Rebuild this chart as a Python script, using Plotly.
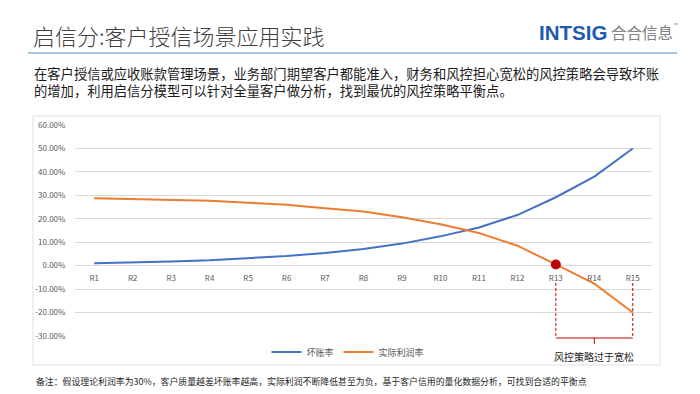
import plotly.graph_objects as go

# ---------------- data ----------------
categories = ["R1", "R2", "R3", "R4", "R5", "R6", "R7", "R8", "R9", "R10",
              "R11", "R12", "R13", "R14", "R15"]
bad_debt_rate = [1.0, 1.3, 1.8, 2.3, 3.1, 4.1, 5.4, 7.1, 9.4, 12.5,
                 16.3, 21.6, 29.2, 38.0, 50.0]
actual_profit_rate = [28.8, 28.5, 28.1, 27.7, 26.9, 26.0, 24.5, 23.1, 20.7, 17.7,
                      13.9, 8.5, 0.5, -7.7, -20.0]
ytick_values = [-30, -20, -10, 0, 10, 20, 30, 40, 50, 60]
ytick_labels = ["-30.00%", "-20.00%", "-10.00%", "0.00%", "10.00%", "20.00%",
                "30.00%", "40.00%", "50.00%", "60.00%"]
series_names = ["坏账率", "实际利润率"]
highlight_category = "R13"
bracket_start, bracket_mid, bracket_end = "R13", "R14", "R15"

title_text = "启信分:客户授信场景应用实践"
para_lines = ["在客户授信或应收账款管理场景，业务部门期望客户都能准入，财务和风控担心宽松的风控策略会导致坏账",
              "的增加，利用启信分模型可以针对全量客户做分析，找到最优的风控策略平衡点。"]
bracket_label = "风控策略过于宽松"
footnote = "备注：假设理论利润率为30%，客户质量越差坏账率越高，实际利润不断降低甚至为负，基于客户信用的量化数据分析，可找到合适的平衡点"

# ---------------- layout helpers (pixel -> paper) ----------------
W, H = 700, 394
PL, PR, PT, PB = 75, 652, 125, 336
def fx(px):
    return (px - PL) / (PR - PL)
def fy(py):
    return (PB - py) / (PB - PT)

FONT = "Noto Sans CJK SC, Noto Sans, sans-serif"
BLUE = "#4472C4"
ORANGE = "#ED7D31"
RED = "#C00000"
GRID = "#D9D9D9"
TICK = "#595959"

yr = [-30.05, 60.05]

fig = go.Figure()
fig.add_trace(go.Scatter(x=categories, y=bad_debt_rate, mode="lines", name=series_names[0],
                         line=dict(color=BLUE, width=2)))
fig.add_trace(go.Scatter(x=categories, y=actual_profit_rate, mode="lines", name=series_names[1],
                         line=dict(color=ORANGE, width=2)))
hi = categories.index(highlight_category)
fig.add_trace(go.Scatter(x=[categories[hi]], y=[actual_profit_rate[hi]], mode="markers",
                         marker=dict(color=RED, size=10), showlegend=False))

shapes = [
    # chart frame
    dict(type="rect", xref="paper", yref="paper", x0=fx(33), x1=fx(660), y0=fy(365), y1=fy(116),
         line=dict(color="#E0E0E0", width=1), fillcolor="rgba(0,0,0,0)", layer="below"),
    # title rule
    dict(type="line", xref="paper", yref="paper", x0=fx(28), x1=fx(677), y0=fy(53), y1=fy(53),
         line=dict(color="#A9C7DC", width=2)),
    # bracket
    dict(type="line", xref="x", yref="paper", x0=bracket_start, x1=bracket_start, y0=fy(283), y1=fy(338),
         line=dict(color=RED, width=1, dash="3px,2px")),
    dict(type="line", xref="x", yref="paper", x0=bracket_end, x1=bracket_end, y0=fy(283), y1=fy(338),
         line=dict(color=RED, width=1, dash="3px,2px")),
    dict(type="line", xref="x", yref="paper", x0=bracket_start, x1=bracket_end, y0=fy(338), y1=fy(338),
         line=dict(color=RED, width=1)),
    dict(type="line", xref="x", yref="paper", x0=bracket_mid, x1=bracket_mid, y0=fy(338), y1=fy(344),
         line=dict(color=RED, width=1)),
]

annotations = [
    dict(text=title_text, xref="paper", yref="paper", x=fx(31), y=fy(35), xanchor="left", yanchor="middle",
         showarrow=False, font=dict(size=22, color="#404040", family=FONT, weight=300)),
    dict(text="<b>INTSIG</b>", xref="paper", yref="paper", x=fx(537), y=fy(32), xanchor="left", yanchor="middle",
         showarrow=False, font=dict(size=20.5, color="#1E5BB0", family="Liberation Sans, Arial, sans-serif")),
    dict(text="合合信息", xref="paper", yref="paper", x=fx(609), y=fy(32), xanchor="left", yanchor="middle",
         showarrow=False, font=dict(size=15.5, color="#808080", family=FONT)),
    dict(text="™", xref="paper", yref="paper", x=fx(672), y=fy(24), xanchor="left", yanchor="middle",
         showarrow=False, font=dict(size=5, color="#808080", family=FONT)),
    dict(text="<br>".join(para_lines), xref="paper", yref="paper", x=fx(32), y=fy(82), xanchor="left",
         yanchor="middle", align="left",
         showarrow=False, font=dict(size=13.3, color="#1A1A1A", family=FONT)),
    dict(text=bracket_label, xref="x", yref="paper", x=bracket_mid, y=fy(356.5), xanchor="center", yanchor="middle",
         showarrow=False, font=dict(size=10, color="#262626", family=FONT)),
    dict(text=footnote, xref="paper", yref="paper", x=fx(34), y=fy(381), xanchor="left", yanchor="middle",
         showarrow=False, font=dict(size=8.9, color="#262626", family=FONT)),
]

fig.update_layout(
    width=W, height=H,
    margin=dict(l=PL, r=W - PR, t=PT, b=H - PB, pad=0),
    paper_bgcolor="white", plot_bgcolor="white",
    font=dict(family=FONT, color=TICK),
    shapes=shapes, annotations=annotations,
    showlegend=True,
    legend=dict(orientation="h", x=fx(348), xanchor="center", y=fy(352), yanchor="middle",
                font=dict(size=9, color=TICK, family=FONT), bgcolor="rgba(0,0,0,0)",
                itemwidth=30, tracegroupgap=0),
    xaxis=dict(type="category", range=[-0.5, len(categories) - 0.5], showgrid=False, showline=False,
               zeroline=False, ticks="outside", ticklen=5, tickcolor="rgba(0,0,0,0)",
               tickfont=dict(size=8, color=TICK, family=FONT),
               anchor="free", position=(0 - yr[0]) / (yr[1] - yr[0])),
    yaxis=dict(range=yr, tickvals=ytick_values, ticktext=ytick_labels, showgrid=True, gridcolor=GRID,
               gridwidth=1, zeroline=True, zerolinecolor=GRID, zerolinewidth=1, showline=False,
               ticks="outside", ticklen=7, tickcolor="rgba(0,0,0,0)",
               tickfont=dict(size=8, color=TICK, family=FONT)),
)

fig.write_html("out.html", config={"displayModeBar": False},
               post_script="document.body.style.margin='0';")
